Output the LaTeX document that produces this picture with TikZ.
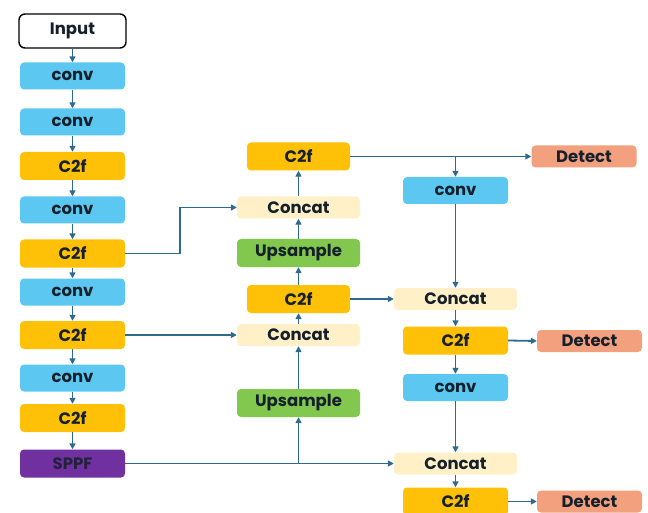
\documentclass[tikz,border=0pt]{standalone}
\usepackage{fontspec}
\setmainfont{Poppins}
\usetikzlibrary{arrows.meta}

\definecolor{convblue}{HTML}{5CC8F2}
\definecolor{c2fgold}{HTML}{FFC107}
\definecolor{catcream}{HTML}{FFF0C8}
\definecolor{upgreen}{HTML}{82C84E}
\definecolor{detsalmon}{HTML}{F2A07E}
\definecolor{sppfpurple}{HTML}{7030A0}
\definecolor{wire}{HTML}{2E6A8E}
\definecolor{ink}{HTML}{15202B}

\tikzset{
  x=1pt, y=-1pt,
  blk/.style={rounded corners=4pt, inner sep=0pt, text=ink,
              font=\fontsize{16.5}{18}\selectfont\bfseries},
  inbox/.style={blk, draw=black, line width=1.4pt, fill=white,
                minimum width=107pt, minimum height=34pt, rounded corners=6pt},
  convbox/.style={blk, fill=convblue, minimum width=105pt, minimum height=27pt},
  c2fbox/.style={blk, fill=c2fgold, minimum width=105pt, minimum height=28pt},
  catbox/.style={blk, fill=catcream, minimum width=123pt, minimum height=22pt},
  upbox/.style={blk, fill=upgreen, minimum width=123pt, minimum height=28pt},
  detbox/.style={blk, fill=detsalmon, minimum width=105pt, minimum height=22pt},
  sppfbox/.style={blk, fill=sppfpurple, minimum width=105pt, minimum height=28pt,
                  text=ink!85!sppfpurple},
  arr/.style={draw=wire, line width=1.8pt,
              -{Triangle[length=6pt,width=6pt]}}
}

\begin{document}
\begin{tikzpicture}
\useasboundingbox[fill=white] (0,0) rectangle (648,513);

% backbone
\node[inbox]   (in)   at (72.5,31)  {Input};
\node[convbox] (c1)   at (72.5,76)  {conv};
\node[convbox] (c2)   at (72.5,122) {conv};
\node[c2fbox]  (f1)   at (72.5,166) {C2f};
\node[convbox] (c3)   at (72.5,210) {conv};
\node[c2fbox]  (f2)   at (72.5,253.5) {C2f};
\node[convbox] (c4)   at (72.5,292) {conv};
\node[c2fbox]  (f3)   at (72.5,335) {C2f};
\node[convbox] (c5)   at (72.5,378) {conv};
\node[c2fbox]  (f4)   at (72.5,418) {C2f};
\node[sppfbox] (sppf) at (72.5,463.5) {SPPF};

% top-down path
\node[c2fbox, minimum width=103pt] (mf1)   at (298.5,156.5) {C2f};
\node[catbox]                      (mcat1) at (298.5,207.5) {Concat};
\node[upbox]                       (mup1)  at (298.5,253) {Upsample};
\node[c2fbox, minimum width=103pt] (mf2)   at (298.5,299) {C2f};
\node[catbox]                      (mcat2) at (298.5,335) {Concat};
\node[upbox]                       (mup2)  at (298.5,403) {Upsample};

% bottom-up path and heads
\node[detbox]  (rdet1) at (584,156.5) {Detect};
\node[convbox] (rconv1) at (455.5,190.5) {conv};
\node[catbox]  (rcat1) at (455.5,299) {Concat};
\node[c2fbox]  (rf1)   at (455.5,340.5) {C2f};
\node[detbox]  (rdet2) at (589.5,341) {Detect};
\node[convbox] (rconv2) at (455.5,387.5) {conv};
\node[catbox]  (rcat2) at (455.5,463.5) {Concat};
\node[c2fbox]  (rf2)   at (455.5,501.5) {C2f};
\node[detbox]  (rdet3) at (589.5,501.5) {Detect};

% backbone arrows
\foreach \a/\b in {in/c1, c1/c2, c2/f1, f1/c3, c3/f2, f2/c4, c4/f3, f3/c5, c5/f4, f4/sppf}
  \draw[arr] (\a.south) -- (\b.north);

% lateral connections
\draw[arr] (f2.east) -- ++(55,0) |- (mcat1.west);
\draw[arr] (f3.east) -- (mcat2.west);
\draw[arr] (sppf.east) -- (rcat2.west);
\draw[arr] (mup2.south |- sppf.east) -- (mup2.south);

% top-down arrows
\draw[arr] (mup2.north) -- (mcat2.south);
\draw[arr] (mcat2.north) -- (mf2.south);
\draw[arr] (mf2.north) -- (mup1.south);
\draw[arr] (mup1.north) -- (mcat1.south);
\draw[arr] (mcat1.north) -- (mf1.south);
\draw[arr] (mf2.east) -- (rcat1.west);

% bottom-up arrows and heads
\draw[arr] (mf1.east) -- (rdet1.west);
\draw[arr] (rconv1.north |- mf1.east) -- (rconv1.north);
\draw[arr] (rconv1.south) -- (rcat1.north);
\draw[arr] (rcat1.south) -- (rf1.north);
\draw[arr] (rf1.east) -- (rdet2.west);
\draw[arr] (rf1.south) -- (rconv2.north);
\draw[arr] (rconv2.south) -- (rcat2.north);
\draw[arr] (rcat2.south) -- (rf2.north);
\draw[arr] (rf2.east) -- (rdet3.west);
\end{tikzpicture}
\end{document}
